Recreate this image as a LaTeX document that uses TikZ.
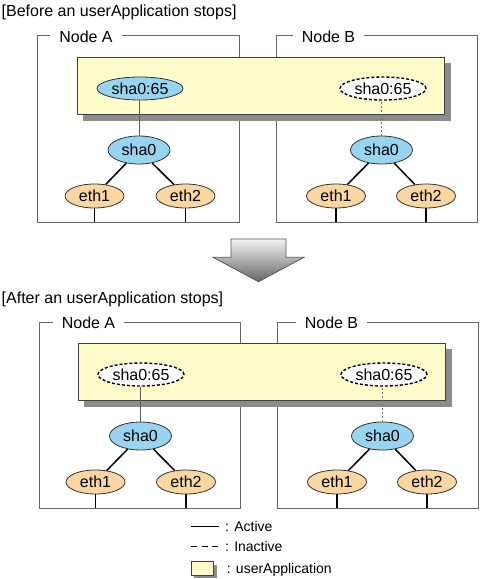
\documentclass[tikz,border=0pt]{standalone}
\usepackage{fontspec}
\setmainfont{Liberation Sans}
\usepackage{tikz}
\usetikzlibrary{shapes.geometric}

\definecolor{shablue}{RGB}{150,212,240}
\definecolor{ethorange}{RGB}{250,214,160}
\definecolor{uappyellow}{RGB}{255,252,204}

\tikzset{
	every node/.style={font=\fontsize{16}{19}\selectfont},
	frame/.style={draw=black!60, line width=0.8pt},
	framelabel/.style={anchor=base, inner xsep=9pt, inner ysep=0pt},
	titletext/.style={anchor=base west, inner sep=0pt},
	legendtext/.style={anchor=base west, inner sep=0pt, font=\fontsize{14}{17}\selectfont},
	uapp/.style={draw=black!75, fill=uappyellow, line width=0.8pt},
	uappshadow/.style={fill=black!45},
	ipup/.style={ellipse, draw=black!80, fill=shablue, minimum width=86pt, minimum height=23pt, inner sep=0pt, line width=0.8pt},
	ipdown/.style={ellipse, draw=black, fill=white, dash pattern=on 3pt off 2pt, line width=1.4pt, minimum width=86pt, minimum height=23pt, inner sep=0pt},
	shanode/.style={ellipse, draw=black!80, fill=shablue, minimum width=62pt, minimum height=28pt, inner sep=0pt, line width=0.8pt},
	ethnode/.style={ellipse, draw=black!80, fill=ethorange, minimum width=59pt, minimum height=24pt, inner sep=0pt, line width=0.8pt},
	active/.style={draw=black, line width=1.5pt},
	inactive/.style={draw=black, line width=1.5pt, dash pattern=on 6pt off 4.5pt},
	ipline/.style={draw=black!65, line width=1pt},
	iplinedown/.style={draw=black!55, line width=1pt, dash pattern=on 2pt off 2pt}
}

\begin{document}
\begin{tikzpicture}[x=1pt, y=-1pt]
		\useasboundingbox (0,0) rectangle (480,579);
		
		%%%%% BEFORE %%%%%
		
		\node[titletext] (title1) at (1.5,16.5) {[Before an userApplication stops]};
		
		\node[framelabel] (labA1) at (86,42.3) {Node A};
		\coordinate (frA1) at (37.7,35.7);
		\coordinate (botA1) at (37.7,222);
		\draw[frame] (labA1.west |- frA1) -- (frA1) -- (botA1) -- (239.3,222) -- (239.3,35.7) -- (labA1.east |- frA1);
		
		\node[framelabel] (labB1) at (328.5,42.3) {Node B};
		\coordinate (frB1) at (276.7,35.7);
		\coordinate (botB1) at (276.7,222);
		\draw[frame] (labB1.west |- frB1) -- (frB1) -- (botB1) -- (477.7,222) -- (477.7,35.7) -- (labB1.east |- frB1);
		
		\fill[uappshadow] (83.3,63.3) rectangle (450.7,120.7);
		\draw[uapp] (77.3,57.3) rectangle (444,114.3);
		
		\node[ipup] (ipA1) at (140,88.5) {sha0:65};
		\node[ipdown] (ipB1) at (383,88.5) {sha0:65};
		\node[shanode] (shaA1) at (139,150) {sha0};
		\node[shanode] (shaB1) at (381.5,150) {sha0};
		\node[ethnode] (ethA1a) at (94.5,196) {eth1};
		\node[ethnode] (ethA1b) at (185.5,196) {eth2};
		\node[ethnode] (ethB1a) at (336,196) {eth1};
		\node[ethnode] (ethB1b) at (426,196) {eth2};
		
		\draw[ipline] (shaA1.north) -- (shaA1.north |- ipA1.south);
		\draw[iplinedown] (shaB1.north) -- (shaB1.north |- ipB1.south);
		\draw[active] (shaA1) -- (ethA1a);
		\draw[active] (shaA1) -- (ethA1b);
		\draw[active] (shaB1) -- (ethB1a);
		\draw[active] (shaB1) -- (ethB1b);
		\draw[active] (ethA1a.south) -- (ethA1a.south |- botA1);
		\draw[active] (ethA1b.south) -- (ethA1b.south |- botA1);
		\draw[active] (ethB1a.south) -- (ethB1a.south |- botB1);
		\draw[active] (ethB1b.south) -- (ethB1b.south |- botB1);
		
		%%%%% ARROW %%%%%
		
		\shade[top color=black!5, bottom color=black!60, draw=black!65, line width=0.8pt] (231,239) -- (286,239) -- (286,257.3) -- (304,257.3) -- (258.5,281.7) -- (213,257.3) -- (231,257.3) -- cycle;
		
		%%%%% AFTER %%%%%
		
		\node[titletext] (title2) at (1.5,303.5) {[After an userApplication stops]};
		
		\node[framelabel] (labA2) at (88.5,328.5) {Node A};
		\coordinate (frA2) at (39,322);
		\coordinate (botA2) at (39,508);
		\draw[frame] (labA2.west |- frA2) -- (frA2) -- (botA2) -- (240.3,508) -- (240.3,322) -- (labA2.east |- frA2);
		
		\node[framelabel] (labB2) at (331.5,328.5) {Node B};
		\coordinate (frB2) at (277.7,322);
		\coordinate (botB2) at (277.7,508);
		\draw[frame] (labB2.west |- frB2) -- (frB2) -- (botB2) -- (478.7,508) -- (478.7,322) -- (labB2.east |- frB2);
		
		\fill[uappshadow] (84.3,349.3) rectangle (451.7,406.7);
		\draw[uapp] (78.3,343.3) rectangle (445,400.3);
		
		\node[ipdown] (ipA2) at (141,374.5) {sha0:65};
		\node[ipdown] (ipB2) at (384,374.5) {sha0:65};
		\node[shanode] (shaA2) at (140.5,436) {sha0};
		\node[shanode] (shaB2) at (382.5,436) {sha0};
		\node[ethnode] (ethA2a) at (95.5,482) {eth1};
		\node[ethnode] (ethA2b) at (186,482) {eth2};
		\node[ethnode] (ethB2a) at (337,482) {eth1};
		\node[ethnode] (ethB2b) at (427,482) {eth2};
		
		\draw[ipline] (shaA2.north) -- (shaA2.north |- ipA2.south);
		\draw[iplinedown] (shaB2.north) -- (shaB2.north |- ipB2.south);
		\draw[active] (shaA2) -- (ethA2a);
		\draw[active] (shaA2) -- (ethA2b);
		\draw[active] (shaB2) -- (ethB2a);
		\draw[active] (shaB2) -- (ethB2b);
		\draw[active] (ethA2a.south) -- (ethA2a.south |- botA2);
		\draw[active] (ethA2b.south) -- (ethA2b.south |- botA2);
		\draw[active] (ethB2a.south) -- (ethB2a.south |- botB2);
		\draw[active] (ethB2b.south) -- (ethB2b.south |- botB2);
		
		%%%%% LEGEND %%%%%
		
		\coordinate (actL) at (191,526.7);
		\coordinate (actR) at (219.3,526.7);
		\draw[active] (actL) -- (actR);
		\node[legendtext] (actT) at (225,531.7) {: Active};
		
		\coordinate (inaL) at (191,546.7);
		\coordinate (inaR) at (219.3,546.7);
		\draw[inactive] (inaL) -- (inaR);
		\node[legendtext] (inaT) at (225,551.7) {: Inactive};
		
		\fill[uappshadow] (194,564.7) rectangle (216.7,578);
		\draw[uapp] (191,561.7) rectangle (213.7,575);
		\node[legendtext] (uappT) at (226.7,573) {: userApplication};
		
		%%%%% END %%%%%
	\end{tikzpicture}
\end{document}
